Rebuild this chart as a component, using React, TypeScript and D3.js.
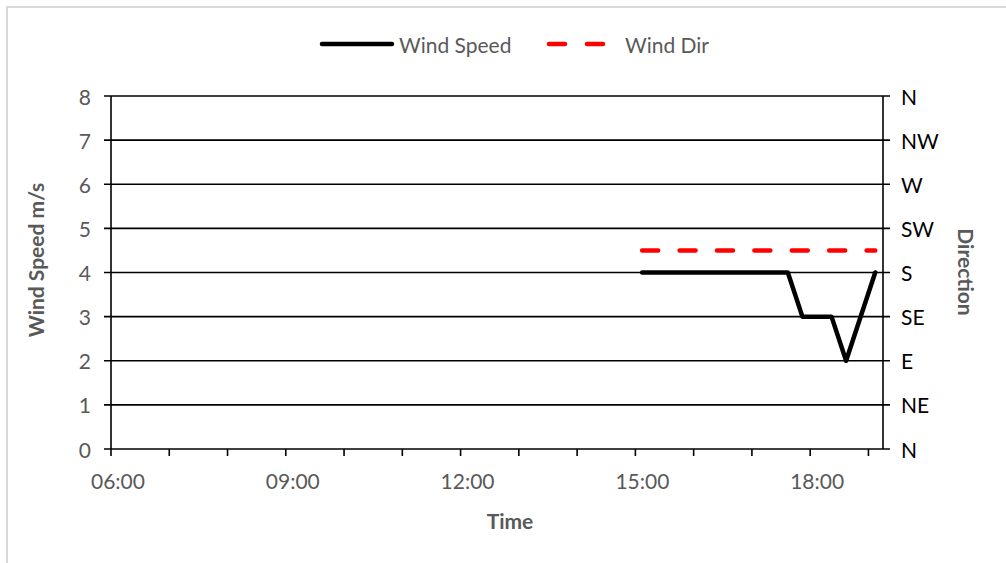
import React from "react";
import * as d3 from "d3";

// Wind observations for the day (times as HH:MM)
const speedTimes = ["15:07", "17:37", "17:52", "18:22", "18:37", "19:07"];
const speedValues = [4, 4, 3, 3, 2, 4];

const dirTimes = ["15:07", "19:07"];
const dirValues = [202.5, 202.5]; // degrees, between S and SW

const speedTicks = [0, 1, 2, 3, 4, 5, 6, 7, 8];
const dirTickLabels = ["N", "NE", "E", "SE", "S", "SW", "W", "NW", "N"];
const timeLabels = ["06:00", "09:00", "12:00", "15:00", "18:00"];

const W = 1006;
const H = 563;
const FONT = "Lato, 'Open Sans', sans-serif";
const GREY = "#595959";

const day = (hm: string) => {
  const [h, m] = hm.split(":").map(Number);
  return new Date(2020, 0, 1, h, m);
};

export default function App() {
  const x = d3
    .scaleTime()
    .domain([day("06:00"), day("19:15")])
    .range([111, 883]);
  const y = d3.scaleLinear().domain([0, 8]).range([449, 96]);
  // direction in degrees mapped onto the same vertical extent
  const yDir = d3.scaleLinear().domain([0, 360]).range([449, 96]);

  const hourTicks = d3.timeHour.range(day("06:00"), day("19:15"), 1);

  const speedPts = speedTimes.map((t, i) => [day(t), speedValues[i]] as [Date, number]);
  const dirPts = dirTimes.map((t, i) => [day(t), dirValues[i]] as [Date, number]);

  const speedLine = d3
    .line<[Date, number]>()
    .x((d) => x(d[0]))
    .y((d) => y(d[1]));
  const dirLine = d3
    .line<[Date, number]>()
    .x((d) => x(d[0]))
    .y((d) => yDir(d[1]));

  const [x0, x1] = x.range();
  const [yb, yt] = y.range();

  return (
    <svg
      width={W}
      height={H}
      style={{ position: "absolute", left: 0, top: 0, background: "#fff" }}
      fontFamily={FONT}
    >
      <rect x={7} y={7} width={W + 20} height={H + 20} fill="#fff" stroke="#d9d9d9" strokeWidth={2} />

      {/* Legend */}
      <line x1={322} x2={392} y1={44} y2={44} stroke="#000" strokeWidth={4.5} strokeLinecap="round" />
      <text x={399} y={44} dominantBaseline="central" fontSize={21} fill={GREY}>
        Wind Speed
      </text>
      <line
        x1={549}
        x2={604}
        y1={44}
        y2={44}
        stroke="#ff0000"
        strokeWidth={4.5}
        strokeLinecap="round"
        strokeDasharray="16 22"
      />
      <text x={625} y={44} dominantBaseline="central" fontSize={21} fill={GREY}>
        Wind Dir
      </text>

      {/* Horizontal gridlines */}
      {speedTicks.map((v) => (
        <line key={"g" + v} x1={x0 - 7} x2={x1 + 7} y1={y(v)} y2={y(v)} stroke="#000" strokeWidth={1.6} />
      ))}

      {/* Axes */}
      <line x1={x0} x2={x0} y1={yt} y2={yb} stroke="#000" strokeWidth={1.6} />
      <line x1={x1} x2={x1} y1={yt} y2={yb} stroke="#000" strokeWidth={1.6} />
      {hourTicks.map((t) => (
        <line key={"t" + t.getTime()} x1={x(t)} x2={x(t)} y1={yb} y2={yb + 7} stroke="#000" strokeWidth={1.6} />
      ))}

      {/* Left tick labels */}
      {speedTicks.map((v) => (
        <text key={"l" + v} x={91} y={y(v)} textAnchor="end" dominantBaseline="central" fontSize={21} fill={GREY}>
          {v}
        </text>
      ))}

      {/* Right direction labels */}
      {dirTickLabels.map((s, i) => (
        <text key={"r" + i} x={901} y={yDir(i * 45)} dominantBaseline="central" fontSize={21} fill="#000">
          {s}
        </text>
      ))}

      {/* Time labels */}
      {timeLabels.map((s) => (
        <text key={"x" + s} x={x(day(s)) + 7} y={480} textAnchor="middle" dominantBaseline="central" fontSize={21} fill={GREY}>
          {s}
        </text>
      ))}

      {/* Axis titles */}
      <text x={510} y={520} textAnchor="middle" dominantBaseline="central" fontSize={21} fontWeight="bold" fill={GREY}>
        Time
      </text>
      <text
        transform="translate(35,260) rotate(-90)"
        textAnchor="middle"
        dominantBaseline="central"
        fontSize={21}
        fontWeight="bold"
        fill={GREY}
      >
        Wind Speed m/s
      </text>
      <text
        transform="translate(966,272) rotate(90)"
        textAnchor="middle"
        dominantBaseline="central"
        fontSize={21}
        fontWeight="bold"
        fill={GREY}
      >
        Direction
      </text>

      {/* Series */}
      <path
        d={dirLine(dirPts) || ""}
        fill="none"
        stroke="#ff0000"
        strokeWidth={4.5}
        strokeLinecap="round"
        strokeDasharray="16 21.4"
      />
      <path
        d={speedLine(speedPts) || ""}
        fill="none"
        stroke="#000"
        strokeWidth={4.5}
        strokeLinejoin="round"
        strokeLinecap="round"
      />
    </svg>
  );
}
